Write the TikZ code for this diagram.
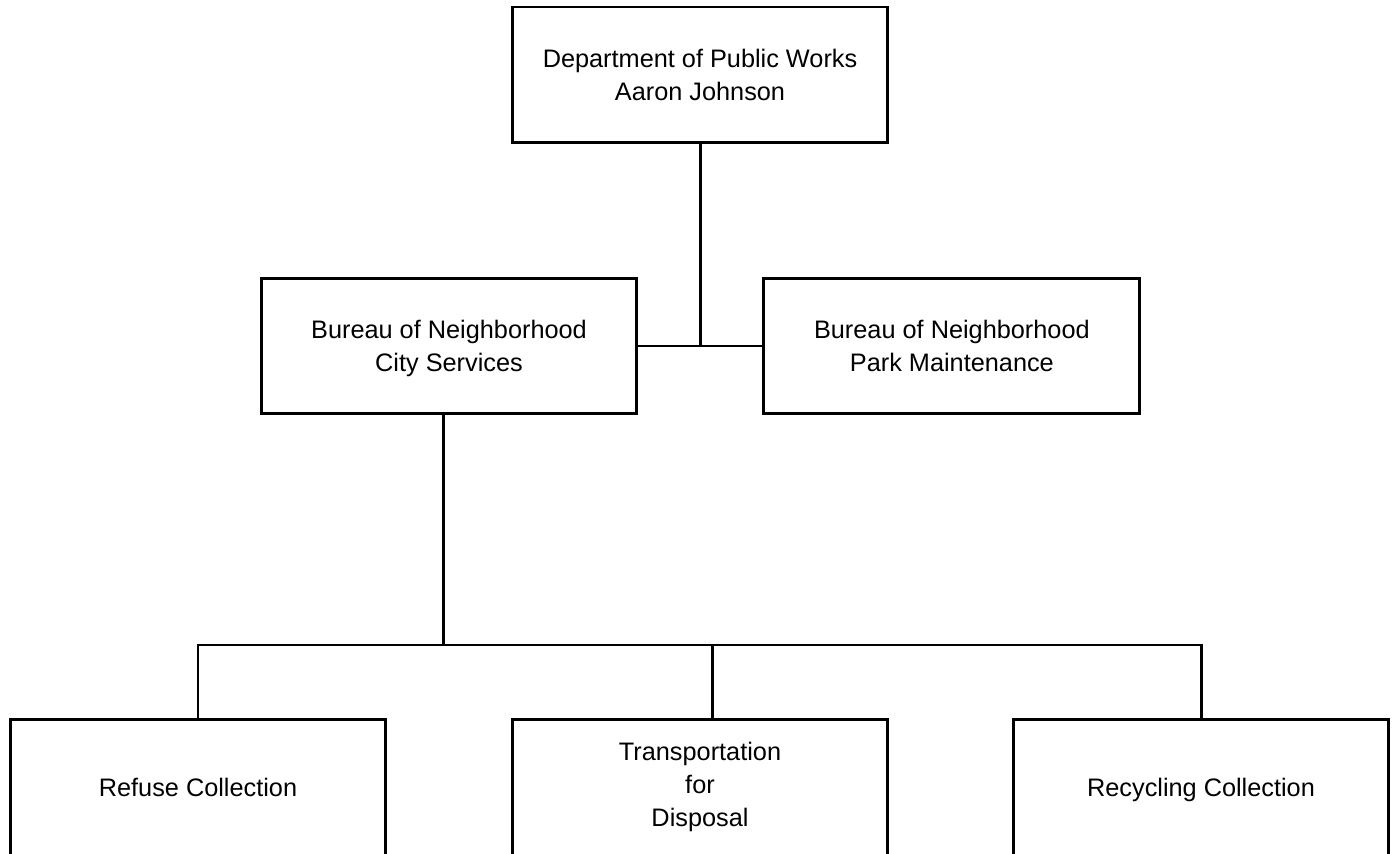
\documentclass[tikz,border=0pt]{standalone}
\usepackage{fontspec}
\setmainfont{Liberation Sans}
\usetikzlibrary{positioning}

\begin{document}
\begin{tikzpicture}[
  x=0.02cm, y=-0.02cm,
  font=\fontsize{14.4pt}{18.8pt}\selectfont,
  unit/.style={rectangle, draw=black, line width=1.7pt, align=center,
               minimum width=7.52cm, minimum height=2.72cm, inner sep=0pt,
               text depth=0pt},
  link/.style={draw=black, line width=1.7pt}
]
\useasboundingbox (0,0) rectangle (1395,854);

\node[unit] (dpw) at (700,75) {Department of Public Works\\Aaron Johnson};
\node[unit] (city) at (449,346) {Bureau of Neighborhood\\City Services};
\node[unit, right=2.48cm of city] (park) {Bureau of Neighborhood\\Park Maintenance};

\node[unit] (refuse) at (198,787) {Refuse Collection};
\node[unit, text depth=] (transport) at (700,787) {Transportation\\for\\Disposal};
\node[unit] (recycle) at (1201,787) {Recycling Collection};

\coordinate (hub) at (443,645);
\coordinate (drop) at (712,645);

\draw[link] (dpw.south) -- (dpw.south |- city.east);
\draw[link] (city.east) -- (park.west);
\draw[link] (hub |- city.south) -- (hub);
\draw[link] (refuse.north) |- (recycle.north |- hub) -- (recycle.north);
\draw[link] (drop) -- (drop |- transport.north);

\end{tikzpicture}
\end{document}
